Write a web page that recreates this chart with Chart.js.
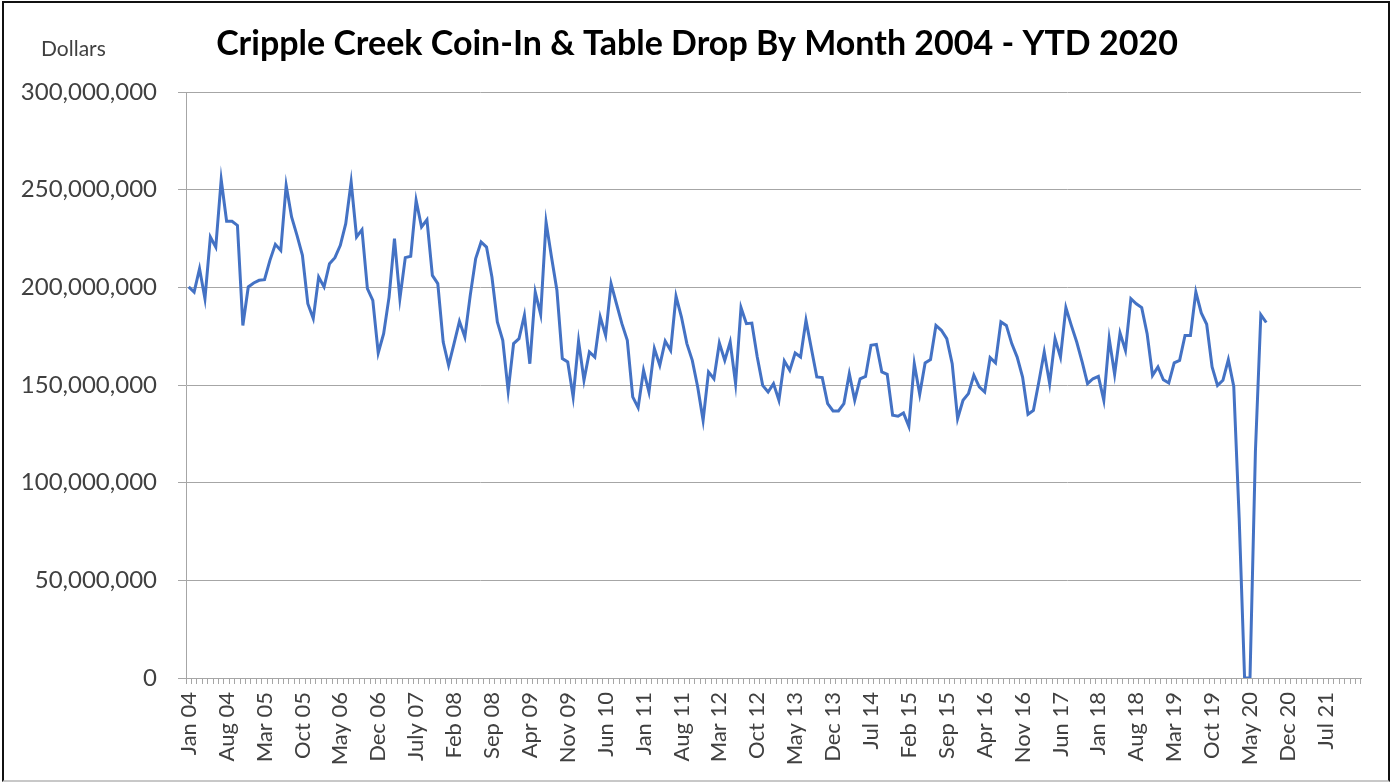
<!DOCTYPE html>
<html>
<head>
<meta charset="utf-8">
<script src="https://cdn.jsdelivr.net/npm/chart.js@4"></script>
<style>
  html, body { margin: 0; padding: 0; background: #fff; }
  #wrap { position: relative; width: 1398px; height: 782px; }
  #frame {
    position: absolute; left: 2px; top: 1px; width: 1384px; height: 777px;
    border: 2px solid #111; border-bottom-color: #c8c8c8; pointer-events: none;
  }
</style>
</head>
<body>
<div id="wrap">
  <canvas id="chart" width="1398" height="782"></canvas>
  <div id="frame"></div>
</div>
<script>
(function () {
  "use strict";

  /* ---- data ------------------------------------------------------- */
  var TITLE = "Cripple Creek Coin-In & Table Drop By Month 2004 - YTD 2020";
  var Y_UNIT = "Dollars";

  var MONTHS = ["Jan", "Feb", "Mar", "Apr", "May", "Jun",
                "Jul", "Aug", "Sep", "Oct", "Nov", "Dec"];
  var FIRST_YEAR = 2004;
  var N_CATEGORIES = 217;               /* Jan 04 .. Jan 22 on the axis */

  /* one label every 7th month, as printed on the axis */
  var TICK_LABELS = [
    "Jan 04", "Aug 04", "Mar 05", "Oct 05", "May 06", "Dec 06", "July 07",
    "Feb 08", "Sep 08", "Apr 09", "Nov 09", "Jun 10", "Jan 11", "Aug 11",
    "Mar 12", "Oct 12", "May 13", "Dec 13", "Jul 14", "Feb 15", "Sep 15",
    "Apr 16", "Nov 16", "Jun 17", "Jan 18", "Aug 18", "Mar 19", "Oct 19",
    "May 20", "Dec 20", "Jul 21"
  ];

  /* coin-in + table drop, millions of dollars, Jan 2004 .. Aug 2020 */
  var COIN_IN_M = [
    200.2, 197.6, 209.6, 194.2, 225.8, 220.6, 255.1, 233.8, 233.8, 231.7, 180.5, 200.2,   // 2004
    202.2, 203.6, 203.9, 213.8, 222.0, 218.9, 252.2, 236.0, 226.6, 216.4, 191.6, 184.0,   // 2005
    205.3, 200.2, 212.1, 215.2, 221.5, 232.6, 253.9, 225.8, 229.5, 199.3, 193.3, 166.4,   // 2006
    176.3, 195.0, 224.9, 194.2, 215.2, 215.9, 244.5, 230.9, 234.6, 206.1, 201.9, 172.0,   // 2007
    160.1, 171.2, 182.6, 174.6, 196.0, 214.7, 223.2, 220.6, 205.3, 182.3, 172.9, 146.9,   // 2008
    171.2, 173.7, 185.7, 160.9, 197.6, 186.2, 233.4, 215.5, 198.5, 163.5, 161.8, 143.9,   // 2009
    172.5, 152.4, 166.9, 164.3, 184.8, 175.4, 201.9, 191.6, 181.4, 172.9, 143.9, 138.4,   // 2010
    157.5, 146.4, 168.6, 160.1, 172.5, 167.7, 195.4, 184.8, 171.2, 162.6, 149.0, 131.9,   // 2011
    156.7, 153.2, 171.5, 162.6, 172.0, 150.7, 189.6, 181.4, 181.7, 164.3, 149.8, 146.4,   // 2012
    150.7, 142.2, 162.3, 157.5, 166.4, 164.3, 183.1, 168.6, 154.1, 153.8, 140.5, 136.7,   // 2013
    136.7, 140.5, 155.8, 142.2, 153.2, 154.4, 170.3, 170.8, 156.7, 155.5, 134.5, 134.0,   // 2014
    135.7, 128.8, 160.9, 145.2, 161.3, 163.0, 180.5, 178.0, 173.7, 160.9, 132.8, 142.2,   // 2015
    145.6, 155.0, 149.0, 146.4, 164.0, 161.3, 182.3, 180.5, 171.2, 164.3, 154.1, 135.0,   // 2016
    137.0, 151.5, 166.9, 150.7, 173.7, 164.3, 189.6, 180.5, 172.0, 161.8, 150.7, 153.2,   // 2017
    154.4, 142.2, 173.7, 155.5, 176.6, 167.7, 194.2, 191.6, 189.6, 176.3, 154.9, 159.2,   // 2018
    152.7, 151.0, 161.3, 162.6, 175.4, 175.4, 197.6, 186.9, 181.1, 159.2, 149.8, 152.4,   // 2019
    163.0, 149.3, 82.0, 0, 0, 116.0, 186.0, 182.0                                         // 2020
  ];

  var Y_MAX = 300000000;
  var Y_STEP = 50000000;

  /* ---- build ------------------------------------------------------ */
  var categories = [];
  for (var i = 0; i < N_CATEGORIES; i++) {
    var yr = FIRST_YEAR + Math.floor(i / 12);
    categories.push(MONTHS[i % 12] + " " + String(yr).slice(2));
  }
  var coinIn = COIN_IN_M.map(function (v) { return v * 1e6; });

  var FONT = "Lato, 'Open Sans', sans-serif";
  var GRID = "#a6a6a6";
  var TEXT = "#404040";

  var captions = {
    id: "captions",
    afterDraw: function (chart) {
      var ctx = chart.ctx;
      ctx.save();
      ctx.textBaseline = "middle";
      ctx.fillStyle = "#000";
      ctx.font = "bold 34px " + FONT;
      ctx.textAlign = "center";
      ctx.fillText(TITLE, 697, 44);
      ctx.fillStyle = TEXT;
      ctx.font = "21px " + FONT;
      ctx.textAlign = "left";
      ctx.fillText(Y_UNIT, 41, 49);
      ctx.restore();
    }
  };

  new Chart(document.getElementById("chart"), {
    type: "line",
    data: {
      labels: categories,
      datasets: [{
        data: coinIn,
        borderColor: "#4472C4",
        borderWidth: 3,
        pointRadius: 0,
        tension: 0,
        fill: false
      }]
    },
    options: {
      responsive: false,
      animation: false,
      layout: { padding: { top: 92, right: 37, left: 0, bottom: 0 } },
      plugins: {
        legend: { display: false },
        tooltip: { enabled: false },
        title: { display: false }
      },
      scales: {
        x: {
          offset: true,
          grid: { offset: true, drawOnChartArea: false, tickLength: 6, color: GRID },
          border: { color: GRID },
          ticks: {
            autoSkip: false,
            minRotation: 90,
            maxRotation: 90,
            padding: 8,
            color: TEXT,
            font: { family: FONT, size: 22 },
            callback: function (v, idx) {
              return idx % 7 === 0 ? TICK_LABELS[idx / 7] : "";
            }
          },
          afterFit: function (s) { s.height = 104; }
        },
        y: {
          min: 0,
          max: Y_MAX,
          grid: { color: GRID, tickLength: 8 },
          border: { color: GRID },
          ticks: {
            stepSize: Y_STEP,
            padding: 21,
            color: TEXT,
            font: { family: FONT, size: 24 },
            callback: function (v) { return Number(v).toLocaleString("en-US"); }
          },
          afterFit: function (s) { s.width = 186; }
        }
      }
    },
    plugins: [captions]
  });
})();
</script>
</body>
</html>
